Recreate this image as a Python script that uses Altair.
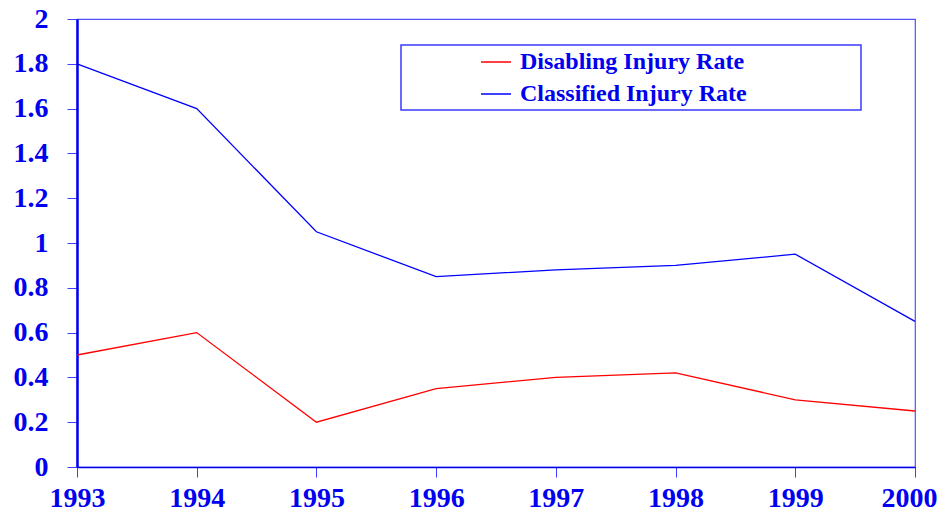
import altair as alt
import pandas as pd

years = [1993, 1994, 1995, 1996, 1997, 1998, 1999, 2000]
disabling = [0.5, 0.6, 0.2, 0.35, 0.4, 0.42, 0.3, 0.25]
classified = [1.8, 1.6, 1.05, 0.85, 0.88, 0.9, 0.95, 0.65]
series_names = ["Disabling Injury Rate", "Classified Injury Rate"]
y_ticks = [0, 0.2, 0.4, 0.6, 0.8, 1, 1.2, 1.4, 1.6, 1.8, 2]

rows = []
for name, vals in zip(series_names, [disabling, classified]):
    for yr, v in zip(years, vals):
        rows.append({"year": yr, "rate": v, "series": name})
df = pd.DataFrame(rows)

FONT = "Liberation Serif"
BLUE = "#0000F0"

lines = alt.Chart(df).mark_line(strokeWidth=1.3).encode(
    x=alt.X("year:Q",
            scale=alt.Scale(domain=[1993, 2000], nice=False, zero=False),
            axis=alt.Axis(values=years, format="d", title=None, grid=False,
                          labelFont=FONT, labelFontSize=28, labelFontWeight="bold",
                          labelColor=BLUE, labelPadding=29, labelBaseline="alphabetic",
                          labelOffset={"condition": {"test": "datum.value == 2000", "value": -6},
                                       "value": 0},
                          tickSize=10, tickColor="#4040FF", domainColor=BLUE,
                          domainWidth=1.5, labelFlush=False)),
    y=alt.Y("rate:Q",
            scale=alt.Scale(domain=[0, 2], nice=False),
            axis=alt.Axis(values=y_ticks, format="~g", title=None, grid=False,
                          labelFont=FONT, labelFontSize=28, labelFontWeight="bold",
                          labelColor=BLUE, labelPadding=19, tickSize=10,
                          tickColor="#4040FF", domainColor=BLUE, domainWidth=2.5)),
    color=alt.Color("series:N",
                    scale=alt.Scale(domain=series_names, range=["#FF0000", "#0000FF"]),
                    sort=series_names,
                    legend=alt.Legend(title=None, orient="none", legendX=403, legendY=27,
                                      symbolType="stroke", symbolSize=900,
                                      symbolStrokeWidth=1.5, labelFont=FONT,
                                      labelFontSize=24, labelFontWeight="bold",
                                      labelColor=BLUE, labelOffset=8, rowPadding=4,
                                      labelLimit=500, padding=0)),
)

box = alt.Chart(pd.DataFrame({"a": [0]})).mark_rect(
    fill="white", stroke="#3A3AFF", strokeWidth=1.5
).encode(
    x=alt.value(324), x2=alt.value(784), y=alt.value(26), y2=alt.value(91)
)

chart = alt.layer(box, lines).properties(
    width=838, height=448,
    autosize=alt.AutoSizeParams(type="none"),
    padding={"left": 69, "top": 11, "right": 22, "bottom": 43},
    background="white",
).configure_view(stroke="#5050FF", strokeWidth=1.2)

chart.save("out.html", embed_options={"renderer": "svg", "actions": False})
